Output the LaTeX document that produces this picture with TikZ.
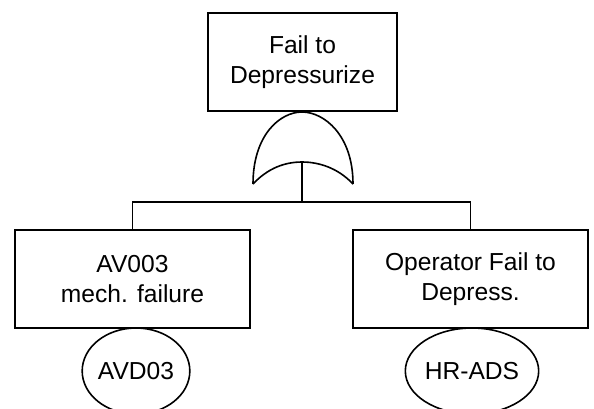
\documentclass[tikz,border=0pt]{standalone}
\usepackage{fontspec}
\setmainfont{Liberation Sans}
\usepackage{tikz}
\usetikzlibrary{shapes.geometric, positioning, calc}

\begin{document}
\begin{tikzpicture}[
  x=1pt, y=-1pt, line width=1.6pt,
  evbox/.style={draw, minimum width=235pt, minimum height=98pt, align=center, inner sep=2pt, font=\fontsize{24.6}{30}\selectfont},
  basic/.style={draw, ellipse, minimum width=106pt, minimum height=86pt, inner sep=0pt, font=\fontsize{24.6}{30}\selectfont}
]
  \useasboundingbox (0,0) rectangle (594,408);
  \clip (0,0) rectangle (594,408);
  \node[evbox, minimum width=189pt] (top) at (302.5, 62) {Fail to\\Depressurize};
  \node[evbox] (mech) at (132.5, 279) {AV003\\mech. failure};
  \node[evbox] (oper) at (470.5, 279) {Operator Fail to\\Depress.};
  \node[basic] (avd) at (136, 371) {AVD03};
  \node[basic, minimum width=100pt] (hrads) at (472, 371) {HR-ADS};
  % OR gate
  \coordinate (gate in) at (302, 162);
  \coordinate (bus) at (302, 202);
  \draw (253,184) .. controls (253,135) and (280,112) .. (302,112)
        .. controls (324,112) and (353,135) .. (353,184);
  \draw (253,184) .. controls (268,168) and (285,162) .. (gate in)
        .. controls (319,162) and (338,168) .. (353,184);
  \draw (gate in) -- (bus);
  \draw (mech.north) |- (bus) -| (oper.north);
\end{tikzpicture}
\end{document}
